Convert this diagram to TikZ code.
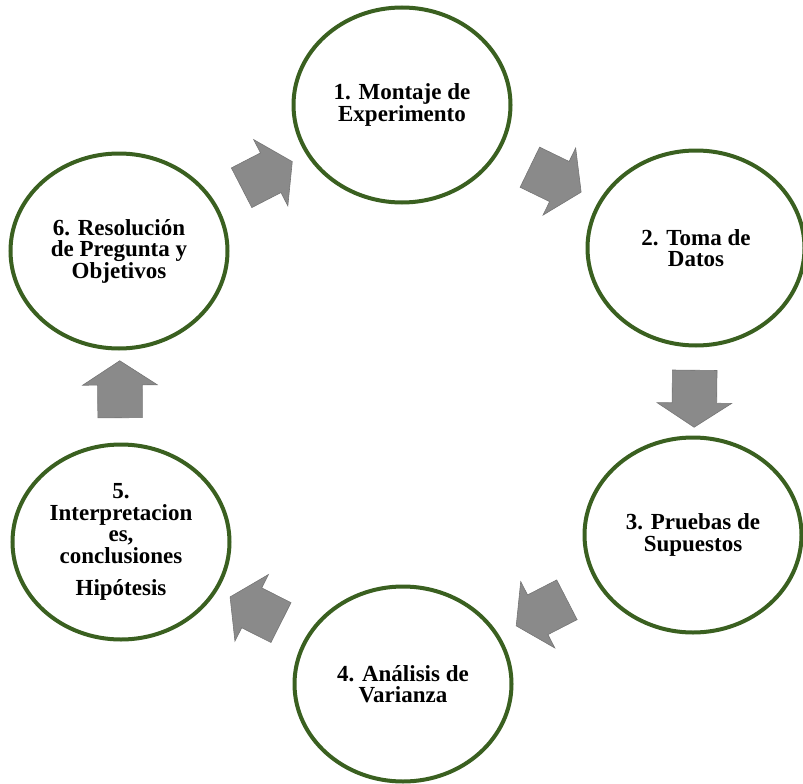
\documentclass[tikz,border=0pt]{standalone}
\usepackage{fontspec}
\setmainfont{Liberation Serif}[BoldFont={Liberation Serif Bold}]
\usetikzlibrary{shapes.geometric,shapes.arrows}
\definecolor{ringgreen}{RGB}{58,96,32}
\definecolor{arrowgray}{RGB}{138,138,138}
\begin{document}
\begin{tikzpicture}[x=1pt,y=-1pt,
  stage/.style={ellipse,draw=ringgreen,line width=4pt,minimum width=217pt,minimum height=195pt,
    align=center,inner sep=0pt,font=\fontsize{23}{21.5}\selectfont\bfseries},
  flecha/.style={single arrow,fill=arrowgray,draw=arrowgray!85!black,line width=0.6pt,
    minimum height=57pt,minimum width=74pt,inner xsep=0pt,inner ysep=22pt,
    single arrow head extend=15pt,single arrow tip angle=114,sloped,allow upside down}]
\useasboundingbox (0,0) rectangle (803,784);
\node at (402,105) [stage] (s1) {1. Montaje de\\Experimento};
\node at (696,248) [stage] (s2) {2. Toma de\\Datos};
\node at (693,535) [stage] (s3) {3. Pruebas de\\Supuestos};
\node at (403,684) [stage] (s4) {4. Análisis de\\Varianza};
\node at (121,542) [stage] (s5) {5.\\Interpretacion\\es,\\conclusiones\\[11pt]Hipótesis};
\node at (119,251) [stage] (s6) {6. Resolución\\de Pregunta y\\Objetivos};
\path (s1) -- node[flecha] (f12) {} (s2);
\path (s2) -- node[flecha] (f23) {} (s3);
\path (s3) -- node[flecha] (f34) {} (s4);
\path (s4) -- node[flecha] (f45) {} (s5);
\path (s5) -- node[flecha] (f56) {} (s6);
\path (s6) -- node[flecha] (f61) {} (s1);
\end{tikzpicture}
\end{document}
